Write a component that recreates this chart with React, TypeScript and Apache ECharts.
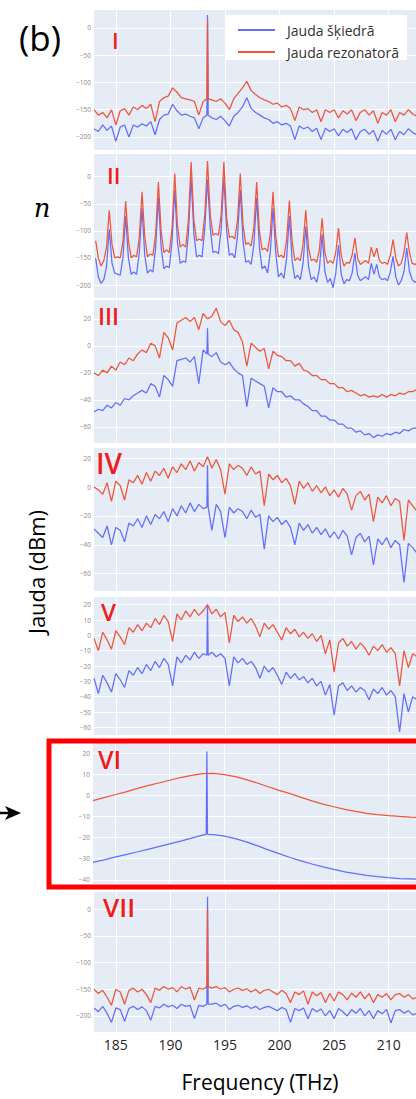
import React, { useEffect, useRef } from "react";
import * as echarts from "echarts";

// ---------- axis / categories ----------
const X_MIN = 183;
const X_MAX = 212.5;
const SPIKE_F = 193.4; // laser line (THz)

// frequency grids (THz)
const FREQ_A = Array.from({ length: 75 }, (_, i) => +(183 + 0.4 * i).toFixed(2)); // 183.0 .. 212.6
const FREQ_B = Array.from({ length: 119 }, (_, i) => +(183.15 + 0.25 * i).toFixed(2)); // 183.15 .. 212.65
const FREQ_C = [183, 184, 185, 186, 187, 188, 189, 190, 191, 192, 193, 194, 195, 196, 197, 198, 199, 200, 201, 202, 203, 204, 205, 206, 207, 208, 209, 210, 211, 212, 212.5];

const NAME_BLUE = "Jauda šķiedrā";
const NAME_RED = "Jauda rezonatorā";
const PANEL_LABELS = ["I", "II", "III", "IV", "V", "VI", "VII"];

// ---------- Panel I ----------
const I_RED = [-150, -160, -155, -165, -150, -178, -152, -148, -160, -145,
  -150, -142, -148, -140, -172, -135, -128, -125, -110, -118,
  -128, -130, -132, -135, -160, -135, -130, -132, -135, -130,
  -138, -150, -130, -120, -110, -98, -115, -122, -128, -132,
  -135, -140, -138, -145, -142, -148, -170, -145, -150, -148,
  -155, -150, -172, -150, -155, -150, -165, -152, -158, -150,
  -170, -155, -150, -160, -152, -175, -155, -160, -150, -172,
  -155, -160, -150, -158, -162];
const I_BLUE = [-185, -190, -178, -188, -180, -208, -182, -178, -200, -178,
  -182, -176, -180, -172, -196, -168, -160, -158, -140, -152,
  -160, -158, -162, -165, -185, -165, -160, -165, -168, -162,
  -170, -180, -162, -155, -145, -128, -148, -155, -160, -165,
  -168, -175, -172, -178, -175, -180, -205, -180, -185, -182,
  -190, -184, -205, -184, -190, -185, -198, -186, -192, -185,
  -205, -190, -186, -195, -188, -208, -188, -195, -186, -205,
  -190, -196, -185, -192, -196];
const I_RED_PEAK = 14;
const I_BLUE_PEAK = 24;

// ---------- Panel II ----------
const II_RED = [-118, -150, -165, -155, -130, -62, -125, -150, -148, -150,
  -120, -45, -118, -150, -145, -148, -112, -28, -110, -148,
  -143, -145, -105, -10, -100, -140, -135, -140, -95, 6,
  -90, -130, -125, -130, -80, 27, -80, -118, -115, -118,
  -70, 29, -70, -108, -105, -108, -70, 27, -75, -112,
  -110, -115, -80, 6, -88, -125, -122, -128, -92, -10,
  -100, -135, -132, -138, -105, -28, -110, -148, -145, -150,
  -115, -44, -120, -155, -150, -155, -125, -62, -130, -155,
  -152, -158, -135, -77, -140, -160, -155, -160, -140, -95,
  -145, -165, -158, -160, -145, -113, -150, -162, -158, -155,
  -160, -130, -148, -132, -155, -160, -158, -162, -145, -116,
  -150, -165, -160, -140, -103, -140, -160, -162, -160];
const II_BLUE = [-150, -185, -197, -190, -165, -97, -160, -178, -180, -182,
  -150, -73, -150, -180, -176, -180, -140, -58, -145, -178,
  -172, -176, -130, -39, -130, -170, -165, -168, -120, -24,
  -122, -160, -156, -158, -105, -2, -105, -148, -145, -148,
  -95, -5, -95, -140, -138, -142, -98, -2, -100, -145,
  -142, -150, -110, -24, -118, -158, -155, -162, -125, -39,
  -130, -170, -165, -178, -140, -58, -140, -185, -178, -188,
  -150, -73, -155, -188, -182, -190, -160, -92, -165, -190,
  -185, -195, -170, -107, -175, -195, -188, -205, -178, -126,
  -180, -198, -190, -192, -178, -141, -182, -192, -188, -185,
  -190, -160, -180, -162, -185, -190, -188, -192, -175, -147,
  -185, -200, -192, -175, -132, -175, -190, -195, -192];

// ---------- Panel III ----------
const III_RED = [-20, -22, -18, -20, -15, -18, -12, -14, -9, -11,
  -6, -3, -5, 2, 0, -9, 10, 6, -3, 17,
  19, 21, 18, 21, 12, 24, 20, 22, 28, 18,
  15, 19, 12, 10, 3, -15, 2, -1, -4, -2,
  -17, -4, -7, -8, -11, -11, -15, -13, -18, -19,
  -22, -22, -25, -25, -28, -28, -31, -31, -34, -33,
  -35, -37, -36, -38, -37, -38, -36, -38, -36, -37,
  -35, -36, -34, -34, -32];
const III_BLUE = [-49, -47, -48, -44, -46, -42, -44, -39, -40, -37,
  -35, -33, -35, -28, -30, -38, -22, -25, -30, -11,
  -10, -9, -12, -8, -28, -3, -6, -8, -5, -12,
  -14, -12, -17, -20, -22, -45, -24, -26, -28, -30,
  -46, -31, -34, -34, -38, -37, -40, -40, -43, -45,
  -48, -48, -52, -52, -55, -55, -58, -58, -61, -61,
  -64, -63, -66, -65, -68, -66, -67, -65, -66, -64,
  -65, -62, -63, -61, -61];
const III_BLUE_PEAK = 13;

// ---------- Panel IV ----------
const IV_RED = [0, -2, -5, 3, -10, 4, 1, -9, 5, 3,
  8, 2, 10, 4, 11, 8, 13, 6, 14, 10,
  16, 12, 18, 11, 17, 14, 21, 13, 19, 12,
  -5, 16, 12, 15, 13, 8, 14, 9, 11, -13,
  9, 5, 8, 3, 6, 1, -12, 4, -1, 3,
  -3, 1, -4, 0, -6, -2, -7, -1, -5, -16,
  -6, -3, -9, -5, -24, -7, -11, -6, -13, -8,
  -10, -37, -9, -13, -17];
const IV_BLUE = [-29, -32, -35, -27, -40, -28, -30, -38, -25, -27,
  -22, -28, -20, -26, -19, -22, -17, -24, -15, -20,
  -13, -18, -11, -17, -12, -15, -14, -30, -12, -17,
  -35, -14, -18, -15, -17, -22, -16, -21, -19, -43,
  -20, -24, -21, -26, -23, -28, -40, -25, -30, -26,
  -32, -28, -33, -29, -35, -31, -36, -30, -34, -47,
  -35, -32, -38, -34, -54, -36, -40, -35, -42, -37,
  -40, -66, -39, -42, -46];
const IV_BLUE_PEAK = 15;

// ---------- Panel V ----------
const V_RED = [-2, -10, 2, -3, -9, 3, -1, -6, 5, 2,
  7, 3, 8, 5, 11, 7, 13, 9, -4, 14,
  10, 16, 12, 17, 13, 16, 20, 14, 17, 12,
  15, -5, 13, 9, 12, 8, 11, 6, -1, 8,
  4, 7, 2, -3, 5, 1, 4, -1, 2, -2,
  1, -4, 0, -12, -3, -24, -5, -2, -7, -4,
  -9, -5, -8, -13, -7, -10, -6, -11, -8, -12,
  -33, -10, -21, -12, -14];
const V_BLUE = [-28, -38, -26, -31, -37, -25, -29, -34, -23, -26,
  -21, -25, -19, -23, -17, -21, -15, -19, -33, -14,
  -18, -13, -16, -11, -15, -12, -13, -11, -14, -12,
  -15, -33, -14, -18, -15, -19, -17, -21, -28, -20,
  -24, -21, -26, -32, -24, -28, -25, -29, -27, -31,
  -28, -33, -30, -39, -32, -52, -33, -31, -36, -33,
  -37, -34, -36, -42, -35, -38, -34, -39, -36, -40,
  -63, -38, -50, -40, -42];
const V_BLUE_PEAK = 20;

// ---------- Panel VI ----------
const VI_RED = [-2.4, -1.0, 0.4, 1.8, 3.3, 4.7, 6.0, 7.3, 8.6, 9.6,
  10.4, 10.6, 10.0, 9.0, 7.6, 6.0, 4.2, 2.5, 0.9, -0.8,
  -2.5, -4.0, -5.3, -6.5, -7.5, -8.4, -9.0, -9.5, -9.9, -10.2, -10.3];
const VI_BLUE = [-31.7, -30.5, -29.2, -28.0, -26.8, -25.5, -24.2, -22.9, -21.6, -20.2,
  -18.8, -18.5, -19.2, -20.4, -22.0, -23.8, -25.8, -27.6, -29.4, -31.0,
  -32.5, -33.9, -35.1, -36.2, -37.1, -37.9, -38.5, -39.0, -39.4, -39.6, -39.7];
const VI_BLUE_PEAK = 21;
const VI_BLUE_BASE = -18.4;

// ---------- Panel VII ----------
const VII_RED = [-150, -158, -152, -165, -180, -150, -155, -178, -152, -148,
  -155, -150, -160, -175, -148, -152, -145, -150, -147, -155,
  -145, -150, -146, -170, -148, -150, -145, -148, -145, -150,
  -147, -155, -150, -148, -152, -149, -155, -150, -158, -152,
  -150, -155, -160, -152, -158, -175, -155, -160, -153, -178,
  -155, -162, -156, -175, -158, -172, -155, -160, -170, -157,
  -165, -155, -168, -158, -175, -160, -165, -158, -170, -160,
  -158, -165, -160, -168, -165];
const VII_BLUE = [-185, -192, -182, -195, -212, -185, -188, -210, -186, -182,
  -188, -183, -190, -208, -182, -185, -178, -183, -180, -186,
  -178, -182, -180, -205, -180, -182, -178, -178, -176, -182,
  -178, -188, -182, -180, -184, -181, -186, -182, -188, -184,
  -182, -186, -190, -184, -188, -212, -186, -190, -185, -205,
  -186, -192, -187, -200, -190, -205, -186, -192, -200, -188,
  -195, -186, -200, -190, -205, -190, -196, -188, -213, -190,
  -188, -195, -190, -198, -195];
const VII_RED_PEAK = 0;
const VII_BLUE_PEAK = 23;

// ---------- helpers ----------
function buildPoints(freq: number[], vals: number[], peak?: number, base?: number) {
  const out: number[][] = [];
  let hit = false;
  freq.forEach((f, i) => {
    if (peak !== undefined && Math.abs(f - SPIKE_F) < 1e-6) {
      hit = true;
      out.push([f - 0.06, vals[i]], [f, peak], [f + 0.06, vals[i]]);
    } else {
      out.push([f, vals[i]]);
    }
  });
  if (peak !== undefined && !hit && base !== undefined) {
    out.push([SPIKE_F - 0.06, base], [SPIKE_F, peak], [SPIKE_F + 0.06, base]);
    out.sort((a, b) => a[0] - b[0]);
  }
  return out;
}

const BLUE = "#636efa";
const RED = "#ef553b";
const LABEL_RED = "#ee1c1c";

const PANELS = [
  { top: 10, height: 140, min: -224, max: 33, split: 5, left: 94, lx: 112, ly: 40, lf: 22 },
  { top: 154, height: 144, min: -224, max: 42, split: 5, left: 94, lx: 107, ly: 175, lf: 22 },
  { top: 300, height: 143, min: -72, max: 34, split: 5, left: 94, lx: 98, ly: 316, lf: 23 },
  { top: 448, height: 143, min: -72, max: 27, split: 5, left: 94, lx: 96, ly: 463, lf: 28 },
  { top: 597, height: 138, min: -65, max: 25, split: 9, left: 94, lx: 101, ly: 611, lf: 24 },
  { top: 743, height: 141, min: -42, max: 25, split: 6, left: 93, lx: 98, ly: 759, lf: 25 },
  { top: 892, height: 140, min: -230, max: 32, split: 5, left: 94, lx: 103, ly: 907, lf: 26 },
];

export default function App() {
  const ref = useRef<HTMLDivElement>(null);
  useEffect(() => {
    if (!ref.current) return;
    const chart = echarts.init(ref.current, undefined, { renderer: "svg" });

    const seriesDefs: [string, string, number[][], number][] = [
      [NAME_BLUE, BLUE, buildPoints(FREQ_A, I_BLUE, I_BLUE_PEAK), 0],
      [NAME_RED, RED, buildPoints(FREQ_A, I_RED, I_RED_PEAK), 0],
      [NAME_BLUE, BLUE, buildPoints(FREQ_B, II_BLUE), 1],
      [NAME_RED, RED, buildPoints(FREQ_B, II_RED), 1],
      [NAME_BLUE, BLUE, buildPoints(FREQ_A, III_BLUE, III_BLUE_PEAK), 2],
      [NAME_RED, RED, buildPoints(FREQ_A, III_RED), 2],
      [NAME_BLUE, BLUE, buildPoints(FREQ_A, IV_BLUE, IV_BLUE_PEAK), 3],
      [NAME_RED, RED, buildPoints(FREQ_A, IV_RED), 3],
      [NAME_BLUE, BLUE, buildPoints(FREQ_A, V_BLUE, V_BLUE_PEAK), 4],
      [NAME_RED, RED, buildPoints(FREQ_A, V_RED), 4],
      [NAME_BLUE, BLUE, buildPoints(FREQ_C, VI_BLUE, VI_BLUE_PEAK, VI_BLUE_BASE), 5],
      [NAME_RED, RED, buildPoints(FREQ_C, VI_RED), 5],
      [NAME_BLUE, BLUE, buildPoints(FREQ_A, VII_BLUE, VII_BLUE_PEAK), 6],
      [NAME_RED, RED, buildPoints(FREQ_A, VII_RED, VII_RED_PEAK), 6],
    ];

    const minus = (v: number) => String(v).replace("-", "\u2212");
    const white = { show: true, lineStyle: { color: "#ffffff", width: 1 }, showMinLine: false, showMaxLine: false };

    const option: any = {
      animation: false,
      backgroundColor: "#ffffff",
      grid: PANELS.map((p) => ({
        left: p.left, right: 0, top: p.top, height: p.height,
        show: true, backgroundColor: "#e5ecf6", borderWidth: 0, containLabel: false,
      })),
      xAxis: PANELS.map((p, i) => ({
        type: "value", gridIndex: i, min: X_MIN, max: X_MAX, splitNumber: 6,
        axisLine: { show: false }, axisTick: { show: false },
        splitLine: white,
        axisLabel: {
          show: i === 6, fontSize: 14, color: "#262626", margin: 5, fontFamily: "Open Sans",
          showMinLabel: false, showMaxLabel: false,
        },
      })),
      yAxis: PANELS.map((p, i) => ({
        type: "value", gridIndex: i, min: p.min, max: p.max, splitNumber: p.split,
        axisLine: { show: false }, axisTick: { show: false },
        splitLine: white,
        axisLabel: {
          fontSize: 6.5, color: "#8a8a8a", margin: 3, fontFamily: "Open Sans",
          showMinLabel: false, showMaxLabel: false, formatter: minus,
        },
      })),
      legend: {
        data: [NAME_BLUE, NAME_RED],
        orient: "vertical", left: 225, top: 15,
        backgroundColor: "#ffffff",
        padding: [8, 8, 1, 13],
        itemGap: 8, itemWidth: 37, itemHeight: 2, icon: "rect",
        textStyle: { fontSize: 14, color: "#333333", fontFamily: "Open Sans", lineHeight: 14, padding: [0, 0, 0, 7] },
      },
      series: seriesDefs.map(([name, color, data, gi]) => ({
        type: "line", name, data, xAxisIndex: gi, yAxisIndex: gi,
        showSymbol: false, symbol: "none", silent: true,
        lineStyle: { color, width: 1.25 }, itemStyle: { color },
      })),
      graphic: [
        ...PANELS.map((p, i) => ({
          type: "text", x: p.lx, y: p.ly, z: 50,
          style: {
            text: PANEL_LABELS[i], fill: LABEL_RED, fontSize: p.lf, fontFamily: "Open Sans", fontWeight: 600,
            textAlign: "left", textVerticalAlign: "middle", align: "left", verticalAlign: "middle",
          },
        })),
        {
          type: "text", x: 40, y: 37, z: 50,
          style: { text: "(b)", fill: "#000", fontSize: 35, fontFamily: "Open Sans",
            textAlign: "center", textVerticalAlign: "middle", align: "center", verticalAlign: "middle" },
        },
        {
          type: "text", x: 42, y: 208, z: 50,
          style: { text: "n", fill: "#000", fontSize: 26, fontStyle: "italic", fontFamily: "DejaVu Serif",
            textAlign: "center", textVerticalAlign: "middle", align: "center", verticalAlign: "middle" },
        },
        {
          type: "text", x: 36, y: 572, rotation: Math.PI / 2, z: 50,
          style: { text: "Jauda (dBm)", fill: "#000", fontSize: 22, fontFamily: "Open Sans",
            textAlign: "center", textVerticalAlign: "middle", align: "center", verticalAlign: "middle" },
        },
        {
          type: "text", x: 260, y: 1082, z: 50,
          style: { text: "Frequency (THz)", fill: "#000", fontSize: 21, fontFamily: "Open Sans",
            textAlign: "center", textVerticalAlign: "middle", align: "center", verticalAlign: "middle" },
        },
        {
          type: "rect", z: 60, silent: true,
          shape: { x: 49, y: 741, width: 400, height: 146 },
          style: { fill: "none", stroke: "#ff0000", lineWidth: 5 },
        },
        {
          type: "line", z: 60,
          shape: { x1: 0, y1: 813, x2: 10, y2: 813 },
          style: { stroke: "#000", lineWidth: 2.5 },
        },
        {
          type: "polygon", z: 60,
          shape: { points: [[5, 806], [21, 813], [5, 820], [9, 813]] },
          style: { fill: "#000" },
        },
      ],
    };
    chart.setOption(option);
    return () => chart.dispose();
  }, []);
  return <div ref={ref} style={{ position: "fixed", left: 0, top: 0, width: 416, height: 1099 }} />;
}
